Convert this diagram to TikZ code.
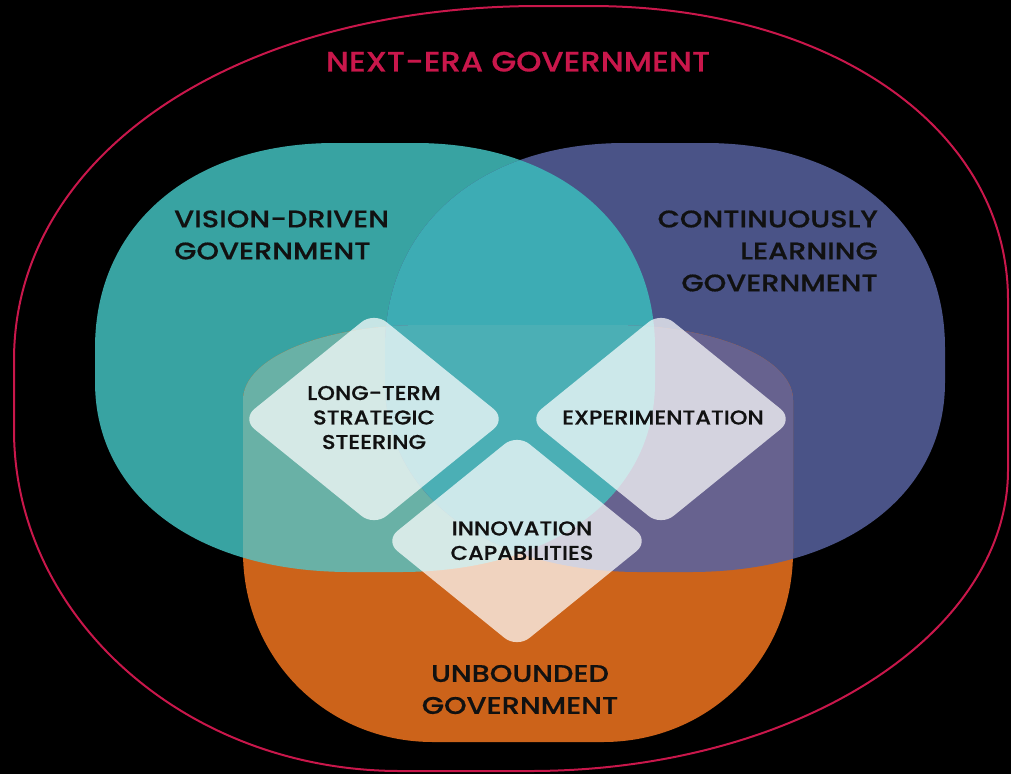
\documentclass[tikz,border=0pt]{standalone}
\usepackage{fontspec}
\setmainfont{Poppins Medium}
\newfontfamily\titlefont{Poppins Medium}[FakeStretch=1.145,FakeBold=0.5]
\newfontfamily\bigfont{Poppins Medium}[FakeStretch=1.2,FakeBold=0.6]
\newfontfamily\smallfont{Poppins Medium}[FakeStretch=1.13,FakeBold=0.6]
\definecolor{tealc}{HTML}{38A3A2}
\definecolor{navyc}{HTML}{4A5387}
\definecolor{orangec}{HTML}{CC631A}
\definecolor{tnc}{HTML}{3DACB4}
\definecolor{toc}{HTML}{69B1A6}
\definecolor{noc}{HTML}{67628F}
\definecolor{tnoc}{HTML}{4BAFB5}
\definecolor{crim}{HTML}{C9174B}
\definecolor{ink}{HTML}{111111}
\tikzset{
  % #1 x1, #2 y1, #3 x2, #4 y2, #5 rx top, #6 ry top, #7 rx bottom, #8 ry bottom, #9 k
  blob/.style n args={9}{insert path={
    (#1,{#2+#6}) .. controls (#1,{#2+#6-#9*#6}) and ({#1+#5-#9*#5},#2) .. ({#1+#5},#2)
    -- ({#3-#5},#2) .. controls ({#3-#5+#9*#5},#2) and (#3,{#2+#6-#9*#6}) .. (#3,{#2+#6})
    -- (#3,{#4-#8}) .. controls (#3,{#4-#8+#9*#8}) and ({#3-#7+#9*#7},#4) .. ({#3-#7},#4)
    -- ({#1+#7},#4) .. controls ({#1+#7-#9*#7},#4) and (#1,{#4-#8+#9*#8}) .. (#1,{#4-#8})
    -- cycle}},
  tealB/.style={blob={95}{143}{655}{572}{240}{205}{255}{190}{0.6}},
  navyB/.style={blob={385}{143}{945}{572}{240}{205}{255}{190}{0.6}},
  orangeB/.style={blob={243}{325}{793}{742}{180}{75}{190}{190}{0.56}},
  diam/.style={fill=white, fill opacity=0.72, rounded corners=16pt},
  biglabel/.style={text=ink, inner sep=0pt, font=\bigfont\fontsize{24}{32}\selectfont},
  smalllabel/.style={text=ink, inner sep=0pt, align=center, font=\smallfont\fontsize{20}{24.5}\selectfont},
  outerline/.style={draw=crim, line width=2pt}
}
\begin{document}
\begin{tikzpicture}[x=1pt,y=-1pt]
\useasboundingbox (0,0) rectangle (1011,774);
\fill[black] (0,0) rectangle (1011,774);
% outer boundary
\draw[outerline] (14,360) .. controls (14,{360-0.58*354}) and ({540-0.58*526},6) .. (540,6)
  -- (590,6) .. controls ({590+0.58*418},6) and (1008,{300-0.58*294}) .. (1008,300)
  -- (1008,470) .. controls (1008,{470+0.552*301}) and ({530+0.552*478},771) .. (530,771)
  -- (400,771) .. controls ({400-0.552*386},771) and (14,{430+0.552*341}) .. (14,430) -- cycle;
% three sets
\fill[tealc] [tealB];
\fill[navyc] [navyB];
\fill[orangec] [orangeB];
\begin{scope}\clip[tealB]; \fill[tnc] [navyB];\end{scope}
\begin{scope}\clip[tealB]; \fill[toc] [orangeB];\end{scope}
\begin{scope}\clip[navyB]; \fill[noc] [orangeB];\end{scope}
\begin{scope}\clip[tealB]; \clip[navyB]; \fill[tnoc] [orangeB];\end{scope}
% diamonds
\fill[diam] (308,365.5) -- (374,312) -- (506,419) -- (374,526) -- (242,419) -- cycle;
\fill[diam] (595,365.5) -- (661,312) -- (793,419) -- (661,526) -- (529,419) -- cycle;
\fill[diam] (451,487.5) -- (517,434) -- (649,541) -- (517,648) -- (385,541) -- cycle;
% labels
\node[text=crim, inner sep=0pt, font=\titlefont\fontsize{28}{34}\selectfont] (title) at (518,61.7) {NEXT-ERA GOVERNMENT};
\node[biglabel, align=left, anchor=west] (vision) at (174,235) {VISION-DRIVEN\\GOVERNMENT};
\node[biglabel, align=right, anchor=east] (learning) at (878,251) {CONTINUOUSLY\\LEARNING\\GOVERNMENT};
\node[biglabel, align=center] (unbounded) at (520,689.5) {UNBOUNDED\\GOVERNMENT};
\node[smalllabel] (steering) at (374,417.5) {LONG-TERM\\STRATEGIC\\STEERING};
\node[smalllabel] (experiment) at (663,417.5) {EXPERIMENTATION};
\node[smalllabel] (innovation) at (522,540.7) {INNOVATION\\CAPABILITIES};
\end{tikzpicture}
\end{document}
